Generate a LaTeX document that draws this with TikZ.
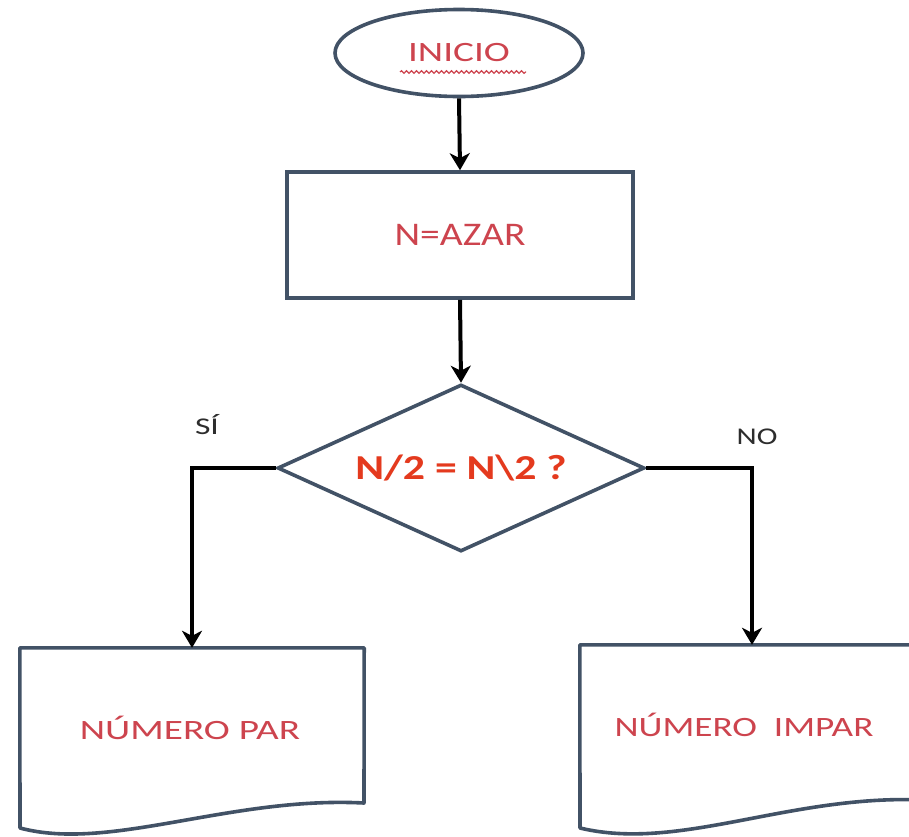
\documentclass[tikz,border=0pt]{standalone}
\usepackage{fontspec}
\setmainfont{Carlito}
\usepackage{graphicx}
\usetikzlibrary{shapes.geometric,arrows.meta,decorations.pathmorphing}
\definecolor{edgecol}{RGB}{66,82,102}
\definecolor{txtred}{RGB}{205,68,78}
\definecolor{boldred}{RGB}{228,58,30}
\definecolor{lblcol}{RGB}{45,45,45}
\newcommand{\stretchtxt}[2]{\scalebox{#1}[1]{#2}}
\begin{document}
\begin{tikzpicture}[x=1pt,y=-1pt,
  shapebox/.style={draw=edgecol,line width=3.6pt,fill=white,inner sep=0pt},
  conn/.style={draw=black,line width=4pt,-{Stealth[length=17pt,width=20pt,inset=5pt]}},
  docline/.style={draw=edgecol,line width=3.6pt,fill=white,line join=round},
  redtxt/.style={text=txtred,font=\fontsize{28}{30}\selectfont},
  lbl/.style={text=lblcol,font=\fontsize{24}{28}\selectfont,inner sep=0pt}]
\useasboundingbox (0,0) rectangle (909,836);
\clip (0,0) rectangle (909,836);
\fill[white] (0,0) rectangle (909,836);

% start
\node[shapebox,ellipse,minimum width=248pt,minimum height=87pt,redtxt] (start) at (459,53)
  {\raisebox{-3pt}{\stretchtxt{1.4}{INICIO}}};
\draw[txtred,line width=1.2pt,decorate,decoration={snake,amplitude=1.3pt,segment length=5pt}]
  (400,72) -- (526,72);

% process
\node[shapebox,rectangle,minimum width=346pt,minimum height=126pt,redtxt,font=\fontsize{33}{36}\selectfont] (azar) at (460,235)
  {\stretchtxt{1.2}{N=AZAR}};

% decision
\node[shapebox,diamond,aspect=2.2,minimum width=367pt,minimum height=167pt,
  text=boldred,font=\bfseries\fontsize{35}{38}\selectfont] (dec) at (461,468)
  {\stretchtxt{1.25}{N/2 = N\textbackslash 2 ?}};

% documents
\node[minimum width=344pt,minimum height=158pt,inner sep=0pt] (par) at (192,727) {};
\draw[docline] (par.north west) -- (par.north east) -- (364,803)
  .. controls (230,796) and (110,852) .. (20,828) -- cycle;
\node[redtxt] (partxt) at (190,728) {\stretchtxt{1.4}{NÚMERO PAR}};

\node[minimum width=344pt,minimum height=160pt,inner sep=0pt] (impar) at (752,725) {};
\draw[docline] (impar.north west) -- (impar.north east) -- (924,800)
  .. controls (790,794) and (680,852) .. (580,828) -- cycle;
\node[redtxt] (impartxt) at (744,725) {\stretchtxt{1.33}{NÚMERO\ \ IMPAR}};

% connectors
\draw[conn] (start.south) -- (azar.north);
\draw[conn] (azar.south) -- (dec.north);
\draw[conn] (dec.west) -| (par.north);
\draw[conn] (dec.east) -| (impar.north);

% labels
\node[lbl] (si) at (207,425) {\stretchtxt{1.4}{SÍ}};
\node[lbl] (no) at (757,437) {\stretchtxt{1.3}{NO}};
\end{tikzpicture}
\end{document}
